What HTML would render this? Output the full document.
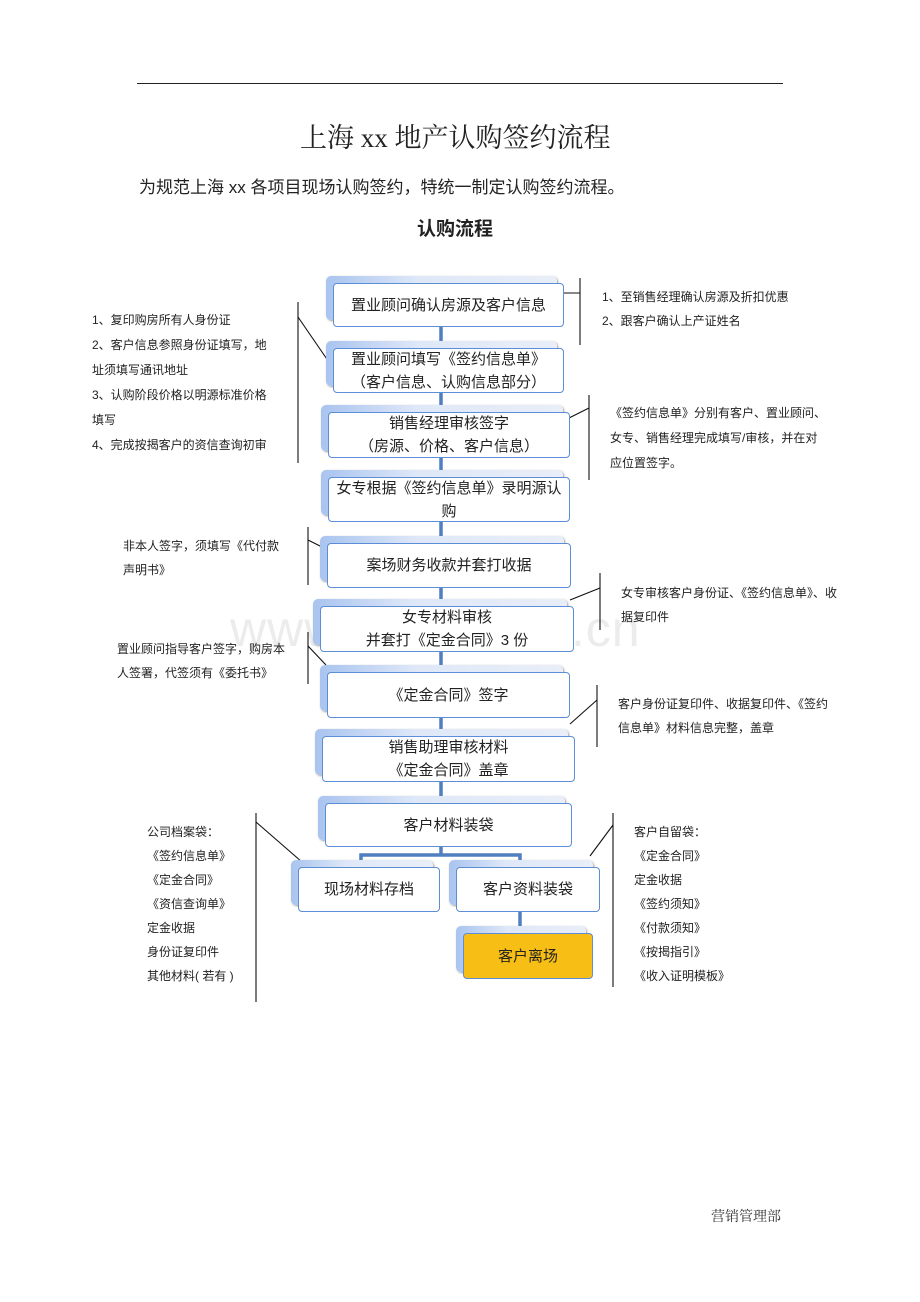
<!DOCTYPE html>
<html><head><meta charset="utf-8"><style>
body{margin:0;background:#fff;}
#p{position:relative;width:920px;height:1302px;overflow:hidden;font-family:"Liberation Sans","Noto Sans CJK SC",sans-serif;color:#222;}
.a{position:absolute;white-space:nowrap;}
.bk{position:absolute;border-radius:5px;background:linear-gradient(90deg,#a9c4ef 0%,#dfe8f8 40%,#e9eef8 100%);box-shadow:1px 1px 2px #999;}
.fr{position:absolute;border-radius:4px;background:#fff;border:1.3px solid #5b8ed6;box-sizing:border-box;display:flex;align-items:center;justify-content:center;text-align:center;font-size:15px;line-height:23px;color:#222;}
.n{font-size:12px;line-height:24px;color:#222;}
</style></head><body><div id="p">
<div class="a" style="left:137px;top:83px;width:646px;height:1px;background:#222"></div>
<div class="a" style="left:300px;top:116px;font-family:'Liberation Serif','Noto Serif CJK SC',serif;font-size:27px">上海 xx 地产认购签约流程</div>
<div class="a" style="left:139px;top:173px;font-size:17px">为规范上海 xx 各项目现场认购签约，特统一制定认购签约流程。</div>
<div class="a" style="left:417px;top:214px;font-size:19px;font-weight:bold">认购流程</div>
<div class="a" style="left:230px;top:600px;font-size:50px;color:#ececec;letter-spacing:1px">www.zixin.com.cn</div>

<svg class="a" style="left:0;top:0" width="920" height="1302">
<g stroke="#4f7fbf" stroke-width="3.5" fill="none">
<line x1="441" y1="320" x2="441" y2="855"/>
<polyline points="361,867 361,855 520,855 520,867"/>
<line x1="520" y1="905" x2="520" y2="933"/>
</g>
<g stroke="#111" stroke-width="1.1" fill="none">
<line x1="580" y1="278" x2="580" y2="345"/><line x1="556" y1="293" x2="580" y2="293"/>
<line x1="298" y1="302" x2="298" y2="463"/><line x1="298" y1="317" x2="333" y2="368"/>
<line x1="589" y1="395" x2="589" y2="480"/><line x1="565" y1="420" x2="589" y2="408"/>
<line x1="308" y1="527" x2="308" y2="585"/><line x1="308" y1="540" x2="328" y2="550"/>
<line x1="600" y1="573" x2="600" y2="630"/><line x1="570" y1="600" x2="600" y2="588"/>
<line x1="308" y1="632" x2="308" y2="684"/><line x1="308" y1="646" x2="326" y2="665"/>
<line x1="597" y1="685" x2="597" y2="747"/><line x1="570" y1="724" x2="597" y2="700"/>
<line x1="256" y1="813" x2="256" y2="1002"/><line x1="256" y1="822" x2="302" y2="862"/>
<line x1="613" y1="813" x2="613" y2="987"/><line x1="590" y1="856" x2="613" y2="825"/>
</g></svg>

<div class="bk" style="left:326px;top:276px;width:231px;height:44px"></div><div class="fr" style="left:333px;top:283px;width:231px;height:44px">置业顾问确认房源及客户信息</div>
<div class="bk" style="left:326px;top:341px;width:231px;height:45px"></div><div class="fr" style="left:333px;top:348px;width:231px;height:45px">置业顾问填写《签约信息单》<br>（客户信息、认购信息部分）</div>
<div class="bk" style="left:321px;top:405px;width:242px;height:46px"></div><div class="fr" style="left:328px;top:412px;width:242px;height:46px">销售经理审核签字<br>（房源、价格、客户信息）</div>
<div class="bk" style="left:321px;top:470px;width:242px;height:45px"></div><div class="fr" style="left:328px;top:477px;width:242px;height:45px">女专根据《签约信息单》录明源认<br>购</div>
<div class="bk" style="left:320px;top:536px;width:244px;height:45px"></div><div class="fr" style="left:327px;top:543px;width:244px;height:45px">案场财务收款并套打收据</div>
<div class="bk" style="left:313px;top:599px;width:254px;height:46px"></div><div class="fr" style="left:320px;top:606px;width:254px;height:46px">女专材料审核<br>并套打《定金合同》3 份</div>
<div class="bk" style="left:320px;top:665px;width:243px;height:46px"></div><div class="fr" style="left:327px;top:672px;width:243px;height:46px">《定金合同》签字</div>
<div class="bk" style="left:315px;top:729px;width:253px;height:46px"></div><div class="fr" style="left:322px;top:736px;width:253px;height:46px">销售助理审核材料<br>《定金合同》盖章</div>
<div class="bk" style="left:318px;top:796px;width:247px;height:44px"></div><div class="fr" style="left:325px;top:803px;width:247px;height:44px">客户材料装袋</div>
<div class="bk" style="left:291px;top:860px;width:142px;height:45px"></div><div class="fr" style="left:298px;top:867px;width:142px;height:45px">现场材料存档</div>
<div class="bk" style="left:449px;top:860px;width:144px;height:45px"></div><div class="fr" style="left:456px;top:867px;width:144px;height:45px">客户资料装袋</div>
<div class="bk" style="left:456px;top:926px;width:130px;height:46px"></div><div class="fr" style="left:463px;top:933px;width:130px;height:46px;background:#f7be16;">客户离场</div>

<div class="a n" style="left:602px;top:285px">1、至销售经理确认房源及折扣优惠<br>2、跟客户确认上产证姓名</div>
<div class="a n" style="left:92px;top:308px;line-height:25px">1、复印购房所有人身份证<br>2、客户信息参照身份证填写，地<br>址须填写通讯地址<br>3、认购阶段价格以明源标准价格<br><span style="line-height:18px">填写</span><br>4、完成按揭客户的资信查询初审</div>
<div class="a n" style="left:610px;top:401px;line-height:25px">《签约信息单》分别有客户、置业顾问、<br>女专、销售经理完成填写/审核，并在对<br>应位置签字。</div>
<div class="a n" style="left:123px;top:534px">非本人签字，须填写《代付款<br>声明书》</div>
<div class="a n" style="left:621px;top:581px">女专审核客户身份证、《签约信息单》、收<br>据复印件</div>
<div class="a n" style="left:117px;top:637px">置业顾问指导客户签字，购房本<br>人签署，代签须有《委托书》</div>
<div class="a n" style="left:618px;top:692px">客户身份证复印件、收据复印件、《签约<br>信息单》材料信息完整，盖章</div>
<div class="a n" style="left:147px;top:820px">公司档案袋：<br>《签约信息单》<br>《定金合同》<br>《资信查询单》<br>定金收据<br>身份证复印件<br>其他材料( 若有 )</div>
<div class="a n" style="left:634px;top:820px">客户自留袋：<br>《定金合同》<br>定金收据<br>《签约须知》<br>《付款须知》<br>《按揭指引》<br>《收入证明模板》</div>
<div class="a" style="left:711px;top:1206px;font-size:14px;font-family:'Liberation Serif','Noto Serif CJK SC',serif;color:#333">营销管理部</div>
</div></body></html>
